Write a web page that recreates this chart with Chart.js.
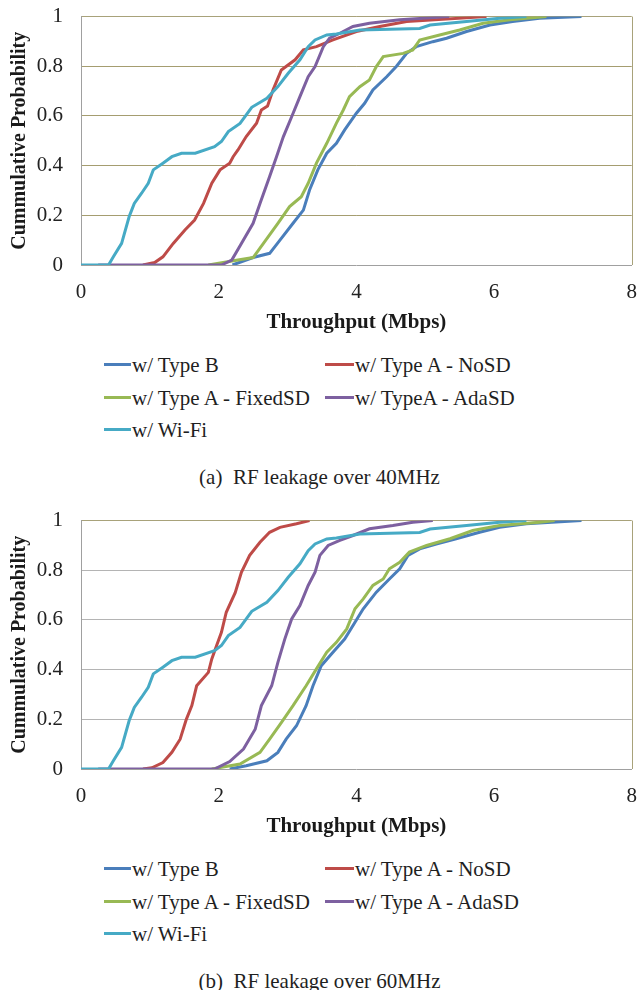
<!DOCTYPE html>
<html>
<head>
<meta charset="utf-8">
<script src="https://cdn.jsdelivr.net/npm/chart.js@4.4.0/dist/chart.umd.min.js"></script>
<style>
    body {
        margin: 0;
        background: #fff;
        width: 639px;
        height: 990px;
        overflow: hidden;
        font-family: "Liberation Serif", "Times New Roman", serif;
        color: #1f1f1f;
    }
    .panel { position: absolute; left: 0; width: 639px; height: 504px; overflow: hidden; }
    .panel canvas { position: absolute; left: 0; top: 0; }
    .legend-item { position: absolute; font-size: 21px; line-height: 24px; height: 24px; white-space: nowrap; }
    .legend-item .swatch { position: absolute; left: 0; top: 10px; height: 3px; }
    .caption { position: absolute; top: 465px; left: 0; width: 639px; text-align: center; font-size: 21px; line-height: 24px; white-space: pre; }
</style>
</head>
<body>
<div class="panel" id="panelA" style="top:0">
    <canvas id="chartA" width="643" height="335"></canvas>
    <div class="caption">(a)  RF leakage over 40MHz</div>
</div>
<div class="panel" id="panelB" style="top:504px">
    <canvas id="chartB" width="643" height="335"></canvas>
    <div class="caption">(b)  RF leakage over 60MHz</div>
</div>

<script>
// Throughput (Mbps) vs cumulative probability
const xTicks = [0, 2, 4, 6, 8];
const yTicks = [0, 0.2, 0.4, 0.6, 0.8, 1];
const colors = ['#4A7EBB', '#BE4B48', '#98B954', '#7D60A0', '#46AAC5'];

const labels40 = ['w/ Type B', 'w/ Type A - NoSD', 'w/ Type A - FixedSD', 'w/ TypeA - AdaSD', 'w/ Wi-Fi'];
const labels60 = ['w/ Type B', 'w/ Type A - NoSD', 'w/ Type A - FixedSD', 'w/ Type A - AdaSD', 'w/ Wi-Fi'];

// (a) 40MHz
const typeB40X = [2.2, 2.50, 2.74, 2.89, 3.08, 3.23, 3.32, 3.44, 3.57, 3.71, 3.83, 4.00, 4.12, 4.24, 4.44, 4.58, 4.73, 4.87, 5.11, 5.31, 5.60, 5.94, 6.27, 6.66, 7.27];
const typeB40Y = [0, 0.03, 0.047, 0.10, 0.168, 0.221, 0.302, 0.383, 0.45, 0.49, 0.544, 0.611, 0.651, 0.705, 0.758, 0.799, 0.852, 0.879, 0.899, 0.913, 0.94, 0.966, 0.98, 0.993, 1];
const noSD40X = [0.9, 1.07, 1.19, 1.34, 1.51, 1.65, 1.78, 1.90, 2.02, 2.16, 2.21, 2.28, 2.40, 2.55, 2.62, 2.71, 2.79, 2.91, 3.11, 3.23, 3.42, 3.66, 4.00, 4.34, 4.73, 5.89];
const noSD40Y = [0, 0.01, 0.033, 0.087, 0.141, 0.181, 0.248, 0.329, 0.383, 0.41, 0.436, 0.463, 0.517, 0.571, 0.624, 0.64, 0.705, 0.785, 0.826, 0.866, 0.879, 0.906, 0.94, 0.96, 0.98, 1];
const fixed40X = [1.85, 2.28, 2.50, 2.65, 2.86, 3.03, 3.20, 3.30, 3.42, 3.57, 3.71, 3.81, 3.90, 4.05, 4.19, 4.29, 4.39, 4.68, 4.82, 4.92, 5.21, 5.50, 5.84, 6.23, 6.76];
const fixed40Y = [0, 0.02, 0.03, 0.087, 0.168, 0.235, 0.275, 0.329, 0.41, 0.49, 0.571, 0.624, 0.678, 0.718, 0.745, 0.799, 0.839, 0.852, 0.866, 0.906, 0.926, 0.946, 0.973, 0.987, 1];
const ada40X = [0.25, 2.04, 2.19, 2.33, 2.50, 2.60, 2.74, 2.84, 2.94, 3.06, 3.18, 3.30, 3.40, 3.52, 3.61, 3.76, 3.95, 4.19, 4.63, 5.35];
const ada40Y = [0, 0, 0.02, 0.087, 0.168, 0.248, 0.356, 0.436, 0.517, 0.597, 0.678, 0.758, 0.799, 0.879, 0.913, 0.933, 0.96, 0.973, 0.987, 1];
const wifiX = [0, 0.40, 0.47, 0.59, 0.70, 0.735, 0.774, 0.88, 0.977, 1.05, 1.19, 1.32, 1.46, 1.66, 1.94, 2.04, 2.14, 2.31, 2.48, 2.70, 2.86, 3.01, 3.18, 3.30, 3.40, 3.57, 3.71, 4.05, 4.92, 5.07, 5.60, 6.08, 6.47];
const wifiY = [0, 0, 0.033, 0.087, 0.195, 0.22, 0.248, 0.289, 0.329, 0.383, 0.41, 0.436, 0.45, 0.45, 0.476, 0.497, 0.537, 0.57, 0.635, 0.671, 0.718, 0.772, 0.826, 0.879, 0.906, 0.926, 0.93, 0.946, 0.952, 0.966, 0.98, 0.993, 1];

// (b) 60MHz
const typeB60X = [2.16, 2.40, 2.70, 2.86, 2.98, 3.13, 3.27, 3.37, 3.49, 3.66, 3.83, 3.98, 4.10, 4.29, 4.48, 4.63, 4.75, 4.92, 5.16, 5.45, 5.79, 6.08, 6.47, 7.27];
const typeB60Y = [0, 0.013, 0.033, 0.067, 0.12, 0.174, 0.255, 0.335, 0.416, 0.47, 0.523, 0.591, 0.645, 0.712, 0.765, 0.806, 0.86, 0.886, 0.906, 0.927, 0.953, 0.973, 0.987, 1];
const noSD60X = [0.9, 1.03, 1.19, 1.32, 1.44, 1.53, 1.61, 1.68, 1.85, 1.90, 1.97, 2.04, 2.11, 2.24, 2.33, 2.45, 2.60, 2.74, 2.89, 3.13, 3.32];
const noSD60Y = [0, 0.005, 0.026, 0.067, 0.12, 0.2, 0.255, 0.335, 0.389, 0.443, 0.497, 0.55, 0.631, 0.71, 0.792, 0.86, 0.913, 0.953, 0.973, 0.987, 1];
const fixed60X = [1.9, 2.31, 2.60, 2.74, 2.91, 3.08, 3.27, 3.42, 3.57, 3.71, 3.86, 3.98, 4.10, 4.24, 4.39, 4.48, 4.63, 4.77, 5.02, 5.36, 5.69, 6.08, 6.66, 6.88];
const fixed60Y = [0, 0.02, 0.067, 0.12, 0.187, 0.255, 0.335, 0.403, 0.47, 0.51, 0.564, 0.645, 0.685, 0.739, 0.765, 0.806, 0.832, 0.873, 0.9, 0.927, 0.96, 0.98, 0.993, 1];
const ada60X = [0.25, 1.94, 2.16, 2.36, 2.53, 2.62, 2.77, 2.86, 2.96, 3.06, 3.18, 3.30, 3.40, 3.47, 3.59, 3.76, 3.95, 4.19, 4.53, 4.82, 5.11];
const ada60Y = [0, 0, 0.03, 0.08, 0.16, 0.255, 0.335, 0.429, 0.523, 0.604, 0.658, 0.739, 0.792, 0.86, 0.9, 0.92, 0.94, 0.967, 0.98, 0.993, 1];

const FONT = '"Liberation Serif", "Times New Roman", serif';
const legendCols = [104, 325];
const legendSwatch = [27, 29];
const legendRows = [365, 398, 430];
// where the plot area should sit inside each panel
const plotTop = 17;
const plotRight = 632;

// right border of the plot frame (Excel draws it olive)
const framePlugin = {
    id: 'frame',
    beforeDatasetsDraw(chart, args, opts) {
        const { ctx, chartArea } = chart;
        ctx.save();
        ctx.strokeStyle = opts.color;
        ctx.lineWidth = 1;
        ctx.beginPath();
        ctx.moveTo(Math.round(chartArea.right) + 0.5, chartArea.top);
        ctx.lineTo(Math.round(chartArea.right) + 0.5, chartArea.bottom);
        ctx.stroke();
        ctx.restore();
    }
};

function chartConfig(series, gridColor, frameColor) {
    const datasets = series.map((s, i) => ({
        label: s.label,
        data: s.x.map((x, j) => ({ x: x, y: s.y[j] })),
        showLine: true,
        pointRadius: 0,
        borderWidth: 3,
        borderColor: colors[i],
        backgroundColor: colors[i],
        tension: 0,
        fill: false,
        order: series.length - 1 - i,
    }));

    return {
        type: 'scatter',
        data: { datasets: datasets },
        plugins: [framePlugin],
        options: {
            responsive: false,
            animation: false,
            layout: { padding: { top: 4, right: 0, left: 0, bottom: 0 } },
            plugins: {
                legend: { display: false },
                tooltip: { enabled: false },
                frame: { color: frameColor },
            },
            scales: {
                x: {
                    type: 'linear',
                    min: xTicks[0],
                    max: xTicks[xTicks.length - 1],
                    afterBuildTicks: (scale) => { scale.ticks = xTicks.map(v => ({ value: v })); },
                    afterFit: (scale) => { scale.height = 70; },
                    ticks: { padding: 15, color: '#222', font: { family: FONT, size: 21 } },
                    grid: { display: false, drawTicks: false },
                    border: { color: '#a0a0a0', width: 1 },
                    title: {
                        display: true,
                        text: 'Throughput (Mbps)',
                        color: '#1a1a1a',
                        font: { family: FONT, size: 21, weight: 'bold' },
                        padding: { top: 5, bottom: 0 },
                    },
                },
                y: {
                    min: yTicks[0],
                    max: yTicks[yTicks.length - 1],
                    afterBuildTicks: (scale) => { scale.ticks = yTicks.map(v => ({ value: v })); },
                    afterFit: (scale) => { scale.width = 81; },
                    ticks: {
                        padding: 18,
                        color: '#222',
                        font: { family: FONT, size: 21 },
                        callback: (v) => String(+v.toFixed(1)),
                    },
                    grid: {
                        drawTicks: false,
                        lineWidth: 1,
                        color: (ctx) => {
                            if (ctx.tick.value === 0) return 'rgba(0,0,0,0)';
                            if (ctx.tick.value === 1) return frameColor;
                            return gridColor;
                        },
                    },
                    border: { color: '#a0a0a0', width: 1 },
                    title: {
                        display: true,
                        text: 'Cummulative Probability',
                        color: '#1a1a1a',
                        font: { family: FONT, size: 20, weight: 'bold' },
                        padding: { top: 8, bottom: 0 },
                    },
                },
            },
        },
    };
}

// draw once, see where Chart.js put the plot area, then resize/shift the canvas so it lands on the target box
function makeChart(canvasId, series, gridColor, frameColor) {
    const canvas = document.getElementById(canvasId);
    const w0 = canvas.width, h0 = canvas.height;
    let chart = new Chart(canvas, chartConfig(series, gridColor, frameColor));
    const ca = chart.chartArea;
    const dx = Math.round(plotRight - ca.right);
    const dy = Math.round(ca.top - plotTop);
    chart.destroy();
    canvas.width = w0 + dx;
    canvas.height = h0 + dy;
    canvas.style.width = (w0 + dx) + 'px';
    canvas.style.height = (h0 + dy) + 'px';
    canvas.style.top = (-dy) + 'px';
    return new Chart(canvas, chartConfig(series, gridColor, frameColor));
}

function buildLegend(panelId, labels) {
    const panel = document.getElementById(panelId);
    labels.forEach((label, i) => {
        const col = i % 2;
        const row = Math.floor(i / 2);
        const item = document.createElement('div');
        item.className = 'legend-item';
        item.style.left = legendCols[col] + 'px';
        item.style.top = (legendRows[row] - 12) + 'px';
        item.style.paddingLeft = (legendSwatch[col] + 1) + 'px';
        const sw = document.createElement('span');
        sw.className = 'swatch';
        sw.style.width = legendSwatch[col] + 'px';
        sw.style.background = colors[i];
        item.appendChild(sw);
        item.appendChild(document.createTextNode(label));
        panel.appendChild(item);
    });
}

makeChart('chartA', [
    { label: labels40[0], x: typeB40X, y: typeB40Y },
    { label: labels40[1], x: noSD40X, y: noSD40Y },
    { label: labels40[2], x: fixed40X, y: fixed40Y },
    { label: labels40[3], x: ada40X, y: ada40Y },
    { label: labels40[4], x: wifiX, y: wifiY },
], '#a59d70', '#a8a27a');

makeChart('chartB', [
    { label: labels60[0], x: typeB60X, y: typeB60Y },
    { label: labels60[1], x: noSD60X, y: noSD60Y },
    { label: labels60[2], x: fixed60X, y: fixed60Y },
    { label: labels60[3], x: ada60X, y: ada60Y },
    { label: labels60[4], x: wifiX, y: wifiY },
], '#b4b4b4', '#a8a27a');

buildLegend('panelA', labels40);
buildLegend('panelB', labels60);
</script>
</body>
</html>
